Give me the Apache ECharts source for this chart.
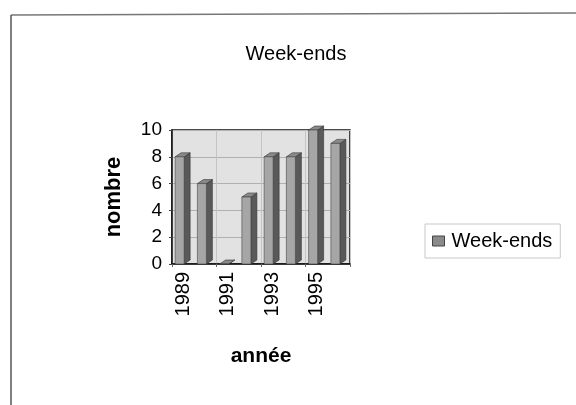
<!DOCTYPE html>
<html>
<head>
<meta charset="utf-8">
<script src="https://cdn.jsdelivr.net/npm/echarts@6/dist/echarts.min.js"></script>
<style>
  html, body { margin: 0; padding: 0; background: #fff; }
  #chart { width: 576px; height: 405px; }
</style>
</head>
<body>
<div id="chart"></div>
<script>
// Weekend counts per year
const years = ['1989', '1990', '1991', '1992', '1993', '1994', '1995', '1996'];
const weekends = [8, 6, 0, 5, 8, 8, 10, 9];
const yTicks = [0, 2, 4, 6, 8, 10];

const chart = echarts.init(document.getElementById('chart'));

// Draws a simple 3D-looking column: front face, shaded right side and top cap
function renderColumn(params, api) {
  const i = api.value(0);
  const v = api.value(1);
  const base = api.coord([i, 0]);
  const top = api.coord([i, v]);
  const cx = base[0];
  const fw = 9, sw = 6, dy = 4;
  const x0 = cx - 8, x1 = x0 + fw;
  const yb = base[1], yt = top[1];
  return {
    type: 'group',
    children: [
      { type: 'polygon', shape: { points: [[x1, yb], [x1 + sw, yb - dy], [x1 + sw, yt - dy], [x1, yt]] },
        style: { fill: '#595959', stroke: '#333', lineWidth: 0.6 } },
      { type: 'polygon', shape: { points: [[x0, yt], [x1, yt], [x1 + sw, yt - dy], [x0 + sw, yt - dy]] },
        style: { fill: '#8a8a8a', stroke: '#333', lineWidth: 0.6 } },
      { type: 'rect', shape: { x: x0, y: yt, width: fw, height: yb - yt },
        style: { fill: '#a6a6a6', stroke: '#444', lineWidth: 0.6 } }
    ]
  };
}

const font = 'Liberation Sans';

chart.setOption({
  animation: false,
  backgroundColor: '#ffffff',
  title: {
    text: 'Week-ends',
    left: 291, top: 39, textAlign: 'center',
    textStyle: { fontFamily: font, fontWeight: 'normal', fontSize: 20, color: '#000' }
  },
  legend: {
    left: 425, top: 224,
    itemWidth: 12, itemHeight: 10, itemGap: 4,
    padding: [7, 8, 7, 7],
    borderColor: '#c8c8c8', borderWidth: 1,
    textStyle: { fontFamily: font, fontSize: 20, color: '#000', padding: [0, 0, 0, 2] },
    data: [{ name: 'Week-ends', icon: 'rect', itemStyle: { color: '#8a8a8a', borderColor: '#444', borderWidth: 1 } }]
  },
  grid: {
    left: 172, right: 226, top: 130, bottom: 141,
    show: true, backgroundColor: '#e2e2e2', borderColor: '#111', borderWidth: 1.5
  },
  xAxis: {
    type: 'category', data: years,
    name: 'année', nameLocation: 'middle', nameGap: 82,
    nameTextStyle: { fontFamily: font, fontWeight: 'bold', fontSize: 21, color: '#000' },
    axisLine: { lineStyle: { color: '#111', width: 1.5 } },
    axisTick: { show: true, alignWithLabel: false, length: 3, lineStyle: { color: '#666' } },
    axisLabel: { interval: 1, rotate: 90, fontFamily: font, fontSize: 20, color: '#000', margin: 8 },
    splitLine: { show: true, lineStyle: { color: '#c4c4c4', width: 1 } }
  },
  yAxis: {
    type: 'value', min: 0, max: 10, interval: 2,
    name: 'nombre', nameLocation: 'middle', nameGap: 47, nameRotate: 90,
    nameTextStyle: { fontFamily: font, fontWeight: 'bold', fontSize: 22, color: '#000' },
    axisLine: { show: true, lineStyle: { color: '#111', width: 1.5 } },
    axisTick: { show: true, length: 3, lineStyle: { color: '#444' } },
    axisLabel: {
      fontFamily: font, fontSize: 19, color: '#000', margin: 10,
      formatter: v => (yTicks.includes(v) ? String(v) : '')
    },
    splitLine: { show: true, lineStyle: { color: '#b0b0b0', width: 1 } }
  },
  series: [{
    name: 'Week-ends',
    type: 'custom',
    renderItem: renderColumn,
    encode: { x: 0, y: 1 },
    data: years.map((y, i) => [i, weekends[i]]),
    itemStyle: { color: '#8a8a8a' }
  }],
  graphic: [
    { type: 'line', shape: { x1: 11, y1: 15, x2: 576, y2: 13 }, style: { stroke: '#777', lineWidth: 1.5 } },
    { type: 'line', shape: { x1: 11, y1: 15, x2: 11, y2: 405 }, style: { stroke: '#555', lineWidth: 1.5 } }
  ]
});
</script>
</body>
</html>
